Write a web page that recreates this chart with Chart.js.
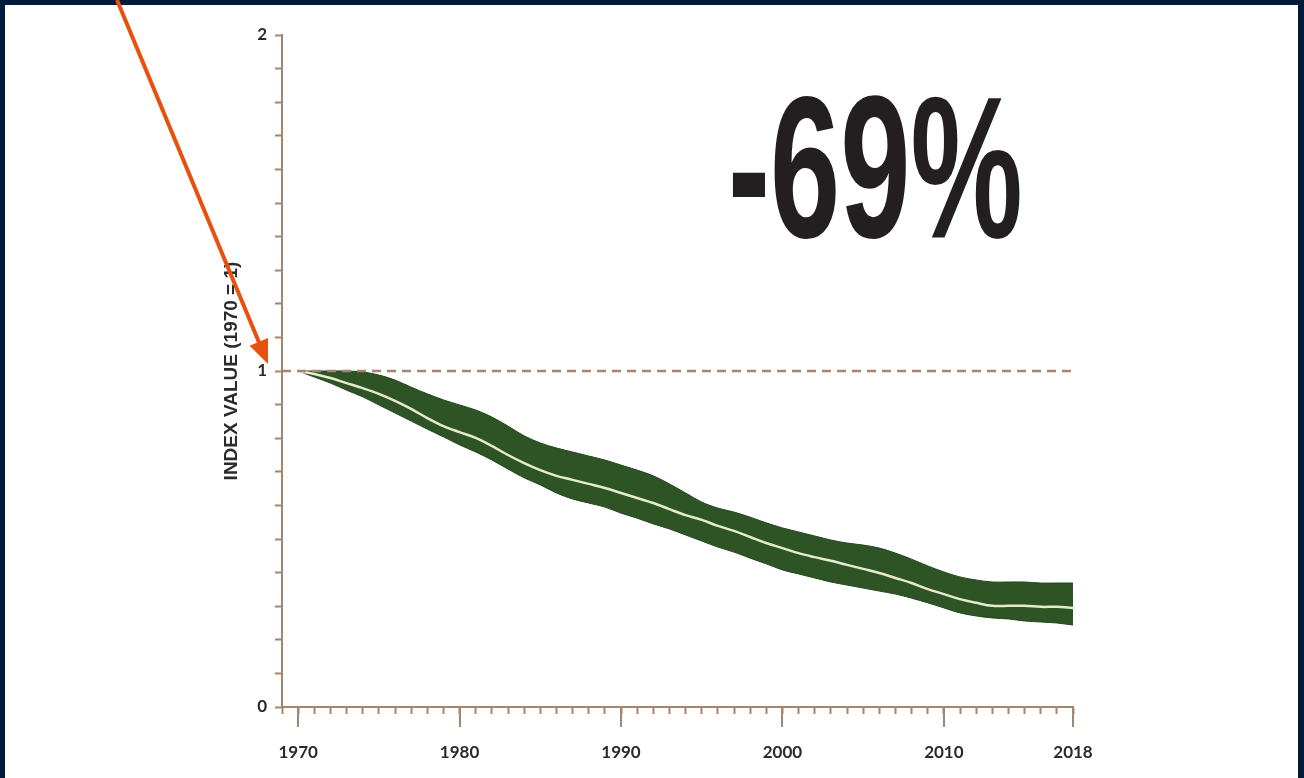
<!DOCTYPE html>
<html>
<head>
<meta charset="utf-8">
<script src="https://cdn.jsdelivr.net/npm/chart.js@4.4.1/dist/chart.umd.min.js"></script>
<style>
html, body { margin: 0; padding: 0; width: 1304px; height: 778px; overflow: hidden; background: #001b3a; }
#panel { position: absolute; left: 5px; top: 5px; width: 1293px; height: 773px; background: #fff; }
#big { position: absolute; left: 728px; top: 66px; font-family: 'Liberation Sans', sans-serif;
       font-weight: bold; font-size: 202px; line-height: 1; color: #231f20; white-space: nowrap;
       transform: scaleX(0.625); transform-origin: left top; }
#wrap { position: absolute; left: 0; top: 0; width: 1304px; height: 778px; }
</style>
</head>
<body>
<div id="panel"></div>
<div id="big">-69%</div>
<div id="wrap"><canvas id="lpiChart" width="1304" height="778"></canvas></div>
<script>
//================================ Data ================================
var years = [1970, 1971, 1972, 1973, 1974, 1975, 1976, 1977, 1978, 1979,
             1980, 1981, 1982, 1983, 1984, 1985, 1986, 1987, 1988, 1989,
             1990, 1991, 1992, 1993, 1994, 1995, 1996, 1997, 1998, 1999,
             2000, 2001, 2002, 2003, 2004, 2005, 2006, 2007, 2008, 2009,
             2010, 2011, 2012, 2013, 2014, 2015, 2016, 2017, 2018];

var indexValue = [1.000, 0.991, 0.979, 0.964, 0.949, 0.932, 0.911, 0.887, 0.860, 0.836,
                  0.818, 0.801, 0.777, 0.750, 0.726, 0.705, 0.688, 0.676, 0.664, 0.652,
                  0.637, 0.622, 0.607, 0.589, 0.571, 0.557, 0.539, 0.524, 0.506, 0.488,
                  0.473, 0.458, 0.446, 0.435, 0.423, 0.411, 0.399, 0.384, 0.369, 0.351,
                  0.336, 0.321, 0.310, 0.301, 0.301, 0.301, 0.298, 0.298, 0.295];

var upperBound = [1.000, 1.000, 1.000, 1.000, 0.997, 0.988, 0.973, 0.952, 0.932, 0.914,
                  0.899, 0.884, 0.863, 0.836, 0.807, 0.786, 0.771, 0.759, 0.747, 0.735,
                  0.720, 0.705, 0.688, 0.664, 0.637, 0.610, 0.592, 0.580, 0.565, 0.548,
                  0.533, 0.521, 0.509, 0.497, 0.488, 0.482, 0.473, 0.458, 0.440, 0.420,
                  0.402, 0.387, 0.378, 0.372, 0.372, 0.372, 0.369, 0.369, 0.369];

var lowerBound = [1.000, 0.982, 0.964, 0.943, 0.923, 0.899, 0.875, 0.851, 0.827, 0.804,
                  0.780, 0.759, 0.735, 0.708, 0.682, 0.661, 0.637, 0.619, 0.607, 0.595,
                  0.577, 0.562, 0.545, 0.530, 0.512, 0.494, 0.476, 0.461, 0.443, 0.426,
                  0.408, 0.396, 0.384, 0.372, 0.363, 0.354, 0.345, 0.336, 0.324, 0.310,
                  0.295, 0.280, 0.271, 0.265, 0.262, 0.256, 0.253, 0.250, 0.244];

var baselineYears = [1969, 2018];
var baselineValue = [1, 1];

var xLabelYears = [1970, 1980, 1990, 2000, 2010, 2018];
var yLabelValues = [0, 1, 2];
var yAxisTitle = 'INDEX VALUE (1970 = 1)';

//================================ Helpers ================================
var axisBrown = '#a5856c';
var labelFont = { family: 'Lato', weight: 'bold', size: 17 };

function toPoints(xs, ys) {
    return xs.map(function(v, i) { return { x: v, y: ys[i] }; });
}

// long ticks under the labelled years + the orange arrow
var extrasPlugin = {
    id: 'extras',
    afterDraw: function(chart) {
        var c = chart.ctx, xs = chart.scales.x, bottom = chart.chartArea.bottom;
        c.save();
        c.strokeStyle = axisBrown;
        c.lineWidth = 2;
        xLabelYears.forEach(function(yr) {
            var px = Math.round(xs.getPixelForValue(yr));
            c.beginPath();
            c.moveTo(px, bottom);
            c.lineTo(px, bottom + 20);
            c.stroke();
        });

        // arrow pointing at the 1970 = 1 start
        var sx = 117, sy = 0, tx = 268, ty = 364;
        var dx = tx - sx, dy = ty - sy, len = Math.sqrt(dx * dx + dy * dy);
        var ux = dx / len, uy = dy / len, head = 24, half = 10;
        var bx = tx - ux * head, by = ty - uy * head;
        c.strokeStyle = '#e8500e';
        c.fillStyle = '#e8500e';
        c.lineWidth = 4;
        c.beginPath();
        c.moveTo(sx, sy);
        c.lineTo(bx + ux * 2, by + uy * 2);
        c.stroke();
        c.beginPath();
        c.moveTo(tx, ty);
        c.lineTo(bx - uy * half, by + ux * half);
        c.lineTo(bx + uy * half, by - ux * half);
        c.closePath();
        c.fill();
        c.restore();
    }
};

//================================ Chart ================================
var ctx = document.getElementById('lpiChart').getContext('2d');
var config = {
    type: 'line',
    data: {
        datasets: [{
            label: 'Upper',
            data: toPoints(years, upperBound),
            borderColor: '#264620',
            borderWidth: 1,
            backgroundColor: '#2e5426',
            fill: '+1',
            pointRadius: 0,
            tension: 0.35,
            order: 3
        }, {
            label: 'Lower',
            data: toPoints(years, lowerBound),
            borderColor: '#264620',
            borderWidth: 1,
            fill: false,
            pointRadius: 0,
            tension: 0.35,
            order: 2
        }, {
            label: 'Index',
            data: toPoints(years, indexValue),
            borderColor: '#e6ead0',
            borderWidth: 2.5,
            fill: false,
            pointRadius: 0,
            tension: 0.35,
            order: 1
        }, {
            label: 'Baseline',
            data: toPoints(baselineYears, baselineValue),
            borderColor: axisBrown,
            borderWidth: 2.5,
            borderDash: [9, 6],
            fill: false,
            pointRadius: 0,
            order: 0
        }]
    },
    options: {
        responsive: false,
        animation: false,
        layout: { padding: { left: 182, top: 35, right: 231, bottom: 0 } },
        plugins: { legend: { display: false }, tooltip: { enabled: false } },
        scales: {
            x: {
                type: 'linear',
                min: 1969,
                max: 2018,
                afterBuildTicks: function(s) {
                    s.ticks = [{ value: 1969 }].concat(years.map(function(v) { return { value: v }; }));
                },
                afterFit: function(s) { s.height = 71; },
                grid: { drawOnChartArea: false, drawTicks: true, tickLength: 7, tickColor: axisBrown, tickWidth: 2 },
                border: { color: axisBrown, width: 2 },
                ticks: {
                    autoSkip: false,
                    maxRotation: 0,
                    padding: 28,
                    color: '#2b2b2b',
                    font: labelFont,
                    callback: function(v) { return xLabelYears.indexOf(v) >= 0 ? String(v) : ''; }
                }
            },
            y: {
                min: 0,
                max: 2,
                afterBuildTicks: function(s) {
                    var t = [];
                    for (var i = 0; i <= 20; i++) t.push({ value: i / 10 });
                    s.ticks = t;
                },
                afterFit: function(s) { s.width = 100; },
                grid: { drawOnChartArea: false, drawTicks: true, tickLength: 7, tickColor: axisBrown, tickWidth: 2 },
                border: { color: axisBrown, width: 2 },
                ticks: {
                    autoSkip: false,
                    padding: 8,
                    color: '#2b2b2b',
                    font: labelFont,
                    callback: function(v) { return yLabelValues.indexOf(v) >= 0 ? String(v) : ''; }
                },
                title: {
                    display: true,
                    text: yAxisTitle,
                    color: '#2b2b2b',
                    font: { family: 'Liberation Sans', weight: 'bold', size: 19 },
                    padding: { top: 38, bottom: 0 }
                }
            }
        }
    },
    plugins: [extrasPlugin]
};

var lpiChart = new Chart(ctx, config);
</script>
</body>
</html>
